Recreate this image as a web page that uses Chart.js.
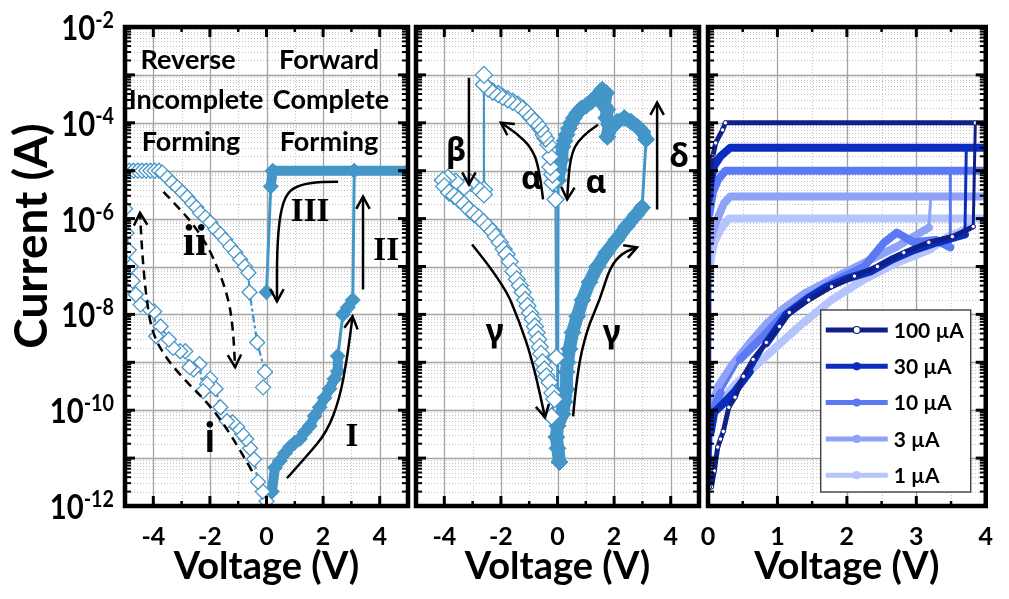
<!DOCTYPE html>
<html><head><meta charset="utf-8">
<script src="https://cdn.jsdelivr.net/npm/chart.js@4.4.1/dist/chart.umd.min.js"></script>
<style>
html,body{margin:0;padding:0;background:#fff;}
#wrap{position:relative;width:1009px;height:599px;overflow:hidden;background:#fff;}
canvas{position:absolute;top:0;}
</style></head><body>
<div id="wrap">
<canvas id="c1" width="420" height="599" style="left:0px"></canvas>
<canvas id="c2" width="305" height="599" style="left:405px"></canvas>
<canvas id="c3" width="329" height="599" style="left:680px"></canvas>
</div>
<script>
// ---------------- DATA ----------------
// Panel 1 : forming (reverse = open diamonds, forward = filled diamonds)
const p1RevV = [0,-0.13,-0.3,-0.44,-0.58,-0.72,-0.86,-1.04,-1.2,-1.4,-1.63,-1.8,-1.99,-2.1,-2.24,-2.37,-2.58,-2.72,-2.87,-3.05,-3.3,-3.45,-3.74,-3.9,-3.97,-4.2,-4.45,-4.62,-4.73,-4.8,-4.87,-4.95,-5.0,
  -5.0,-4.85,-4.7,-4.55,-4.4,-4.25,-4.1,-3.95,-3.8,
  -3.68,-3.5,-3.33,-3.15,-2.97,-2.8,-2.63,-2.48,-2.34,-2.16,-1.99,-1.8,-1.63,-1.46,-1.28,-1.1,-0.93,-0.76,-0.64,-0.6,-0.33,-0.05,-0.12];
const p1RevI = [1.26e-12,2.0e-12,3.2e-12,9.5e-12,1.6e-11,2.5e-11,3.2e-11,4.5e-11,5.6e-11,5.9e-11,1.15e-10,2.8e-10,4.5e-10,3.5e-10,2.5e-10,9.1e-10,7.1e-10,7.9e-10,1.7e-9,1.7e-9,2.0e-9,3.0e-9,5.6e-9,3.5e-9,1.15e-8,1.4e-8,1.6e-8,2.6e-8,5.0e-8,1.0e-7,2.2e-7,5.0e-7,1.6e-6,
  1e-5,1e-5,1e-5,1e-5,1e-5,1e-5,1e-5,1e-5,1e-5,
  9.1e-6,7.1e-6,5.6e-6,4.5e-6,3.5e-6,2.8e-6,2.1e-6,1.7e-6,1.3e-6,1.05e-6,8.3e-7,5.9e-7,4.7e-7,3.6e-7,2.6e-7,1.95e-7,1.4e-7,1.0e-7,7.4e-8,2.9e-8,2.6e-9,6.3e-10,3.0e-10];
const p1FwdV = [0.19,0.3,0.47,0.65,0.83,1.0,1.18,1.35,1.53,1.7,1.88,2.05,2.23,2.4,2.52,2.52,2.7,2.87,3.05,3.1,5.0,0.22,0.15,0.0];
const p1FwdI = [2.0e-12,6.3e-12,8.7e-12,1.26e-11,1.7e-11,2.1e-11,2.5e-11,3.5e-11,4.7e-11,7.6e-11,1.15e-10,1.8e-10,2.8e-10,4.5e-10,6.5e-10,1.35e-9,1.0e-8,1.4e-8,2.0e-8,1.0e-5,1.0e-5,1.0e-5,4.7e-6,2.9e-8];

// Panel 2 : switching loop
const p2RevV = [-0.04,-0.07,-0.18,-0.18,-0.25,-0.25,-0.32,-0.42,-0.49,-0.6,-0.7,-0.82,-0.95,-1.1,-1.23,-1.4,-1.58,-1.76,-1.94,-2.1,-2.29,-2.45,-2.6,-2.6,-2.6,-2.6,-2.89,-3.06,-3.3,-3.6,-3.87,-4.05,-4.0,-3.83,-3.66,-3.49,-3.3,-3.13,-2.95,-2.78,-2.62,-2.46,-2.3,-2.18,-2.04,-1.9,-1.8,-1.69,-1.56,-1.44,-1.33,-1.23,-1.14,-1.06,-0.97,-0.88,-0.8,-0.74,-0.68,-0.63,-0.58,-0.53,-0.46,-0.39,-0.28,-0.18,-0.11,-0.21];
const p2RevI = [1.26e-9,2.5e-6,5.6e-6,8.3e-6,1.2e-5,1.95e-5,3.5e-5,4.7e-5,5.6e-5,7.4e-5,9.1e-5,1.12e-4,1.3e-4,1.66e-4,2.0e-4,2.4e-4,2.75e-4,3.1e-4,3.5e-4,4.0e-4,4.5e-4,5.2e-4,6.3e-4,1.0e-3,4.0e-6,3.2e-6,4.7e-6,5.6e-6,4.5e-6,5.9e-6,7.1e-6,6.3e-6,4.7e-6,3.5e-6,3.0e-6,2.5e-6,2.0e-6,1.55e-6,1.26e-6,1.05e-6,8.5e-7,6.8e-7,5.4e-7,4.2e-7,3.2e-7,2.3e-7,1.8e-7,1.26e-7,7.9e-8,5.4e-8,4.0e-8,2.9e-8,2.0e-8,1.5e-8,1.07e-8,7.9e-9,5.6e-9,4.2e-9,3.0e-9,2.1e-9,1.5e-9,1.0e-9,7.1e-10,5.1e-10,3.8e-10,2.3e-10,1.7e-10,7.4e-11];
const p2FwdV = [0.07,-0.04,0.0,0.18,0.25,0.32,0.32,0.35,0.42,0.53,0.7,0.88,1.13,1.41,1.73,2.08,2.43,2.78,2.99,3.13,3.0,2.82,2.6,2.36,2.11,1.9,1.76,1.83,1.72,1.76,1.65,1.72,1.58,1.37,1.2,1.02,0.85,0.7,0.58,0.49,0.4,0.32,0.25,0.18,0.14,0.07,0.02,0.0];
const p2FwdI = [8.3e-12,2.75e-11,4.7e-11,8.3e-11,1.5e-10,2.75e-10,6.3e-10,1.0e-9,1.9e-9,4.2e-9,9.1e-9,2.0e-8,4.7e-8,1.0e-7,1.95e-7,3.6e-7,6.8e-7,1.2e-6,1.7e-6,4.5e-5,6.5e-5,8.3e-5,1.05e-4,1.26e-4,1.05e-4,7.9e-5,5.1e-5,9.1e-5,1.26e-4,1.9e-4,2.3e-4,4.2e-4,4.9e-4,3.5e-4,2.8e-4,2.3e-4,2.0e-4,1.6e-4,1.26e-4,1.0e-4,7.6e-5,5.6e-5,4.2e-5,3.2e-5,1.7e-5,1.05e-5,6.3e-6,1.6e-11];

// Panel 3 : compliance currents
const p3Labels = ['100 µA','30 µA','10 µA','3 µA','1 µA'];
const p3V_100 = [0.05,0.09,0.14,0.18,0.22,0.30,0.39,0.51,0.65,0.84,1.03,1.17,1.45,1.78,2.11,2.44,2.82,3.18,3.52,3.82,3.85,4.0,0.25,0.21,0.11,0.07,0.02,0.02];
const p3I_100 = [2.5e-12,5.4e-12,1.7e-11,2.5e-11,3.6e-11,1.15e-10,1.86e-10,5.1e-10,1.15e-9,2.6e-9,5.6e-9,1.1e-8,2.0e-8,3.8e-8,6.3e-8,1.0e-7,1.95e-7,3.2e-7,4.2e-7,6.8e-7,1.0e-4,1.0e-4,1.0e-4,7.1e-5,3.8e-5,2.0e-5,9.5e-6,2.5e-12];
const p3V_30 = [0.02,0.04,0.09,0.18,0.37,0.6,0.84,1.13,1.45,1.69,2.0,2.34,2.65,2.96,3.3,3.7,3.72,4.0,0.32,0.18,0.09,0.04,0.01,0.01];
const p3I_30 = [3.2e-12,3.5e-11,9.1e-11,1.2e-10,2.3e-10,6.3e-10,2.5e-9,1.0e-8,2.2e-8,3.6e-8,5.6e-8,7.9e-8,1.4e-7,2.2e-7,3.2e-7,4.7e-7,3.0e-5,3.0e-5,3.0e-5,2.0e-5,1.26e-5,6.3e-6,2.5e-6,3.2e-12];
const p3V_10 = [0.02,0.04,0.18,0.46,0.75,1.07,1.45,1.87,2.25,2.54,2.72,2.96,3.28,3.49,3.49,4.0,0.25,0.14,0.07,0.02,0.02];
const p3I_10 = [2.5e-12,7.9e-11,2.3e-10,1.15e-9,3.0e-9,9.1e-9,2.3e-8,5.4e-8,1.0e-7,3.2e-7,5.1e-7,3.2e-7,3.6e-7,2.5e-7,1.0e-5,1.0e-5,1.0e-5,6.3e-6,3.5e-6,1.26e-6,2.5e-12];
const p3V_3 = [0.02,0.04,0.15,0.35,0.6,0.84,1.07,1.4,1.78,2.2,2.72,3.18,3.21,4.0,0.32,0.23,0.18,0.09,0.04,0.02];
const p3I_3 = [4.0e-12,1.0e-10,3.2e-10,8.9e-10,2.5e-9,6.3e-9,1.26e-8,2.8e-8,5.4e-8,1.1e-7,2.6e-7,6.5e-7,2.9e-6,2.9e-6,2.9e-6,2.1e-6,1.4e-6,6.8e-7,3.6e-7,4.0e-12];
const p3V_1 = [0.02,0.03,0.09,0.37,0.84,1.31,1.78,2.25,2.72,3.18,3.46,3.75,3.77,4.0,0.3,0.18,0.09,0.04,0.02,0.02];
const p3I_1 = [3.2e-12,1.0e-11,1.05e-10,3.2e-10,1.35e-9,5.6e-9,2.0e-8,5.4e-8,1.2e-7,2.2e-7,4.2e-7,6.3e-7,1.0e-6,1.0e-6,1.0e-6,5.9e-7,3.2e-7,1.4e-7,5.4e-8,3.2e-12];

// Tick labels
const xTicksPm = [-4,-2,0,2,4];
const xMinorPm = [-3,-1,1,3];
const xTicks3 = [0,1,2,3,4];
const xMinor3 = [0.5,1.5,2.5,3.5];
const yTickExp = [-2,-4,-6,-8,-10,-12];

// ---------------- STYLE / HELPERS ----------------
const FONT = "Lato, 'Open Sans', sans-serif";
const GREEK = "'Noto Sans', 'DejaVu Sans', sans-serif";
const SERIF = "'Liberation Serif', 'DejaVu Serif', serif";
const BLUE = '#4596c8';
const P3COL = ['#0f2088','#0a2cbf','#5a79f3','#8ea2f8','#b6c4fc'];

function pts(V, I){ const n=Math.min(V.length,I.length); const r=[]; for(let i=0;i<n;i++) r.push({x:V[i], y:I[i]}); return r; }
function segWidth(thick, thin){
  return c => { const a=c.p0, b=c.p1; const dx=Math.abs(b.x-a.x), dy=Math.abs(b.y-a.y);
    return (dy > 1.5*dx && Math.hypot(dx,dy) > 30) ? thin : thick; };
}
function line(ctx,x1,y1,x2,y2){ ctx.beginPath(); ctx.moveTo(x1,y1); ctx.lineTo(x2,y2); ctx.stroke(); }
function smoothPath(ctx,P){
  ctx.beginPath(); ctx.moveTo(P[0][0],P[0][1]);
  for(let i=1;i<P.length-1;i++){ const mx=(P[i][0]+P[i+1][0])/2, my=(P[i][1]+P[i+1][1])/2; ctx.quadraticCurveTo(P[i][0],P[i][1],mx,my); }
  ctx.lineTo(P[P.length-1][0],P[P.length-1][1]);
}
function head(ctx,from,to,len,ang){
  const a=Math.atan2(to[1]-from[1],to[0]-from[0]);
  ctx.beginPath(); ctx.moveTo(to[0]-len*Math.cos(a-ang), to[1]-len*Math.sin(a-ang));
  ctx.lineTo(to[0],to[1]); ctx.lineTo(to[0]-len*Math.cos(a+ang), to[1]-len*Math.sin(a+ang)); ctx.stroke();
}

// Annotations (voltage, log10 current)
const HDR = `bold 27px ${FONT}`, ROM = `bold 33px ${SERIF}`, GRK = `bold 32px ${GREEK}`;
const p1Notes = [
  {text:'Reverse', v:-2.77, e:-2.69, font:HDR}, {text:'Incomplete', v:-2.49, e:-3.52, font:HDR}, {text:'Forming', v:-2.67, e:-4.4, font:HDR},
  {text:'Forward', v:2.21, e:-2.69, font:HDR}, {text:'Complete', v:2.28, e:-3.52, font:HDR}, {text:'Forming', v:2.21, e:-4.4, font:HDR},
  {text:'III', v:1.54, e:-5.88, font:ROM}, {text:'II', v:4.23, e:-6.68, font:ROM}, {text:'I', v:3.02, e:-10.56, font:ROM},
  {text:'ii', v:-2.53, e:-6.53, font:`bold 44px ${SERIF}`}, {text:'i', v:-2.0, e:-10.6, font:`bold 42px ${FONT}`}
];
const p1Arrows = [
  {pts:[[-3.64,-5.44],[-3.04,-5.81],[-2.44,-6.23],[-1.88,-6.79],[-1.35,-7.63],[-1.18,-8.31],[-1.11,-9.1]], dash:[9,6]},
  {pts:[[-0.51,-11.27],[-1.29,-10.46],[-2.1,-9.83],[-2.81,-9.42],[-3.52,-8.94],[-4.05,-8.39],[-4.27,-7.55],[-4.4,-6.66],[-4.47,-5.88]], dash:[9,6]},
  {pts:[[2.53,-5.23],[1.89,-5.23],[1.18,-5.29],[0.72,-5.46],[0.48,-5.88],[0.37,-6.65],[0.37,-7.73]]},
  {pts:[[3.41,-7.48],[3.41,-5.54]]},
  {pts:[[0.72,-11.42],[1.42,-10.96],[2.13,-10.46],[2.58,-9.77],[2.86,-8.88],[3.04,-8.04]]}
];
const p2Notes = [
  {text:'β', v:-3.58, e:-4.61, font:GRK}, {text:'α', v:-0.92, e:-5.19, font:GRK}, {text:'α', v:1.36, e:-5.28, font:GRK},
  {text:'δ', v:4.3, e:-4.73, font:GRK}, {text:'γ', v:-2.22, e:-8.39, font:GRK}, {text:'γ', v:1.92, e:-8.41, font:GRK}
];
const p2Arrows = [
  {pts:[[-3.13,-3.06],[-3.13,-5.29]]},
  {pts:[[-0.51,-5.6],[-0.65,-4.92],[-0.94,-4.5],[-1.47,-4.21],[-2.0,-4.0]]},
  {pts:[[1.43,-4.04],[0.8,-4.29],[0.44,-4.71],[0.34,-5.6]]},
  {pts:[[3.52,-5.81],[3.52,-3.58]]},
  {pts:[[-3.02,-6.54],[-1.93,-7.33],[-1.33,-8.17],[-0.87,-9.0],[-0.44,-10.15]]},
  {pts:[[0.55,-10.13],[0.69,-9.21],[1.04,-8.31],[1.5,-7.69],[1.86,-7.0],[2.31,-6.71],[2.81,-6.6]]}
];

// ---------------- PLUGIN ----------------
const deco = {
  id:'deco',
  beforeDatasetsDraw(chart, args, o){
    const {ctx, chartArea:a, scales:{x,y}} = chart;
    ctx.save();
    ctx.beginPath(); ctx.rect(a.left,a.top,a.right-a.left,a.bottom-a.top); ctx.clip();
    ctx.lineWidth=1; ctx.strokeStyle='#c4c4c4'; ctx.setLineDash([1,2]);
    for(let e=-12;e<-2;e++) for(let k=2;k<10;k++){ const py=Math.round(y.getPixelForValue(k*Math.pow(10,e)))+0.5; line(ctx,a.left,py,a.right,py); }
    o.minorX.forEach(v=>{ const px=Math.round(x.getPixelForValue(v))+0.5; line(ctx,px,a.top,px,a.bottom); });
    ctx.setLineDash([]); ctx.strokeStyle='#a4a4a4'; ctx.lineWidth=1.3;
    for(let e=-11;e<-2;e++){ const py=Math.round(y.getPixelForValue(Math.pow(10,e)))+0.5; line(ctx,a.left,py,a.right,py); }
    o.majorX.forEach(v=>{ const px=Math.round(x.getPixelForValue(v))+0.5; line(ctx,px,a.top,px,a.bottom); });
    ctx.restore();
  },
  afterDraw(chart, args, o){
    const {ctx, chartArea:a, scales:{x,y}} = chart;
    const X = v => x.getPixelForValue(v), Y = e => y.getPixelForValue(Math.pow(10,e));
    ctx.save();
    ctx.save(); ctx.beginPath(); ctx.rect(a.left,a.top,a.right-a.left,a.bottom-a.top); ctx.clip();
    (o.arrows||[]).forEach(ar=>{
      const P = ar.pts.map(p=>[X(p[0]),Y(p[1])]);
      ctx.strokeStyle='#000'; ctx.lineWidth=2.5; ctx.lineCap='butt'; ctx.lineJoin='miter';
      ctx.setLineDash(ar.dash||[]); smoothPath(ctx,P); ctx.stroke(); ctx.setLineDash([]);
      head(ctx,P[P.length-2],P[P.length-1],14,0.5);
    });
    (o.notes||[]).forEach(n=>{ ctx.font=n.font; ctx.fillStyle='#000'; ctx.textAlign='center'; ctx.textBaseline='middle'; ctx.fillText(n.text,X(n.v),Y(n.e)); });
    ctx.restore();
    // ticks and frame
    ctx.strokeStyle='#000'; ctx.lineCap='butt';
    for(let e=-12;e<=-2;e++){
      const py=Y(e); ctx.lineWidth=3; line(ctx,a.left,py,a.left+10,py); line(ctx,a.right-10,py,a.right,py);
      if(e<-2) for(let k=2;k<10;k++){ const q=y.getPixelForValue(k*Math.pow(10,e)); ctx.lineWidth=2; line(ctx,a.left,q,a.left+6,q); line(ctx,a.right-6,q,a.right,q); }
    }
    o.majorX.forEach(v=>{ const px=X(v); ctx.lineWidth=3; line(ctx,px,a.bottom,px,a.bottom-10); line(ctx,px,a.top,px,a.top+10); });
    o.minorX.forEach(v=>{ const px=X(v); ctx.lineWidth=2.5; line(ctx,px,a.bottom,px,a.bottom-5); line(ctx,px,a.top,px,a.top+5); });
    ctx.lineWidth=4.5; ctx.strokeRect(a.left,a.top,a.right-a.left,a.bottom-a.top);
    // y labels with superscript exponents
    if(o.yLabels){
      ctx.fillStyle='#000'; ctx.textAlign='left'; ctx.textBaseline='alphabetic';
      const sx=0.86;
      o.yLabels.forEach(e=>{
        const py=Y(e), base='10', sup=String(e);
        ctx.font=`bold 34px ${FONT}`; const wb=ctx.measureText(base).width*sx;
        ctx.font=`bold 23px ${FONT}`; const ws=ctx.measureText(sup).width*sx;
        const x0=a.left-11-ws-wb;
        ctx.save(); ctx.translate(x0,py+13); ctx.scale(sx,1); ctx.font=`bold 34px ${FONT}`; ctx.fillText(base,0,0); ctx.restore();
        ctx.save(); ctx.translate(x0+wb,py+1); ctx.scale(sx,1); ctx.font=`bold 23px ${FONT}`; ctx.fillText(sup,0,0); ctx.restore();
      });
    }
    if(o.yTitle){
      ctx.save(); ctx.translate(47,236); ctx.rotate(-Math.PI/2);
      ctx.font=`bold 46px ${FONT}`; ctx.fillStyle='#000'; ctx.textAlign='center'; ctx.textBaseline='alphabetic';
      ctx.fillText(o.yTitle,0,0); ctx.restore();
    }
    if(o.legend){
      const L=o.legend; const bx=a.right-L.dr-L.w, by=a.bottom-L.db-L.h;
      ctx.fillStyle='#fff'; ctx.fillRect(bx,by,L.w,L.h); ctx.lineWidth=1.2; ctx.strokeStyle='#222'; ctx.strokeRect(bx,by,L.w,L.h);
      chart.data.datasets.forEach((ds,i)=>{
        const cy=by+L.first+i*L.step;
        ctx.strokeStyle=ds.borderColor; ctx.lineWidth=5; line(ctx,bx+5,cy,bx+67,cy);
        ctx.beginPath(); ctx.arc(bx+36,cy,3.5,0,2*Math.PI); ctx.fillStyle=ds.pointBackgroundColor||ds.borderColor; ctx.fill();
        ctx.lineWidth=1.2; ctx.strokeStyle=ds.borderColor; ctx.stroke();
        ctx.fillStyle='#000'; ctx.font=`bold 21px ${FONT}`; ctx.textAlign='left'; ctx.textBaseline='middle'; ctx.fillText(ds.label,bx+73,cy+1);
      });
    }
    ctx.restore();
  }
};

function xAxis(min,max,ticks){
  return { type:'linear', min, max,
    afterBuildTicks: s => { s.ticks = ticks.map(v=>({value:v})); },
    afterFit: s => { s.height = 93; },
    grid:{display:false, drawTicks:false}, border:{display:false},
    ticks:{ color:'#000', font:{family:FONT, size:25, weight:'bold'}, padding:16, maxRotation:0, autoSkip:false, callback: v => String(v) },
    title:{ display:true, text:'Voltage (V)', color:'#000', font:{family:FONT, size:38, weight:'bold'}, padding:{top:0,bottom:9} } };
}
function baseOpts(padL,padR,xmin,xmax,ticks,minor,extra){
  return { responsive:false, animation:false, devicePixelRatio:1, events:[],
    layout:{padding:{left:padL,right:padR,top:27,bottom:0}},
    scales:{ x:xAxis(xmin,xmax,ticks), y:{type:'logarithmic', min:1e-12, max:1e-2, display:false} },
    plugins:{ legend:{display:false}, tooltip:{enabled:false}, deco:Object.assign({majorX:ticks, minorX:minor}, extra) } };
}
function openDs(V,I,r,dash){
  return { label:'reverse', data:pts(V,I), showLine:true, borderColor:BLUE, borderWidth:2.2, borderDash:dash,
    pointStyle:'rectRot', pointRadius:r, pointBackgroundColor:'#fff', pointBorderColor:BLUE, pointBorderWidth:1.3 };
}
function fillDs(V,I,r,thick){
  return { label:'forward', data:pts(V,I), showLine:true, borderColor:BLUE, borderWidth:3, borderCapStyle:'round', borderJoinStyle:'round',
    segment:{borderWidth:segWidth(thick,3)}, pointStyle:'rectRot', pointRadius:r, pointBackgroundColor:BLUE, pointBorderColor:BLUE, pointBorderWidth:1 };
}

new Chart(document.getElementById('c1'), { type:'scatter', plugins:[deco],
  data:{ datasets:[ openDs(p1RevV,p1RevI,7.5,[8,3,3,3]), fillDs(p1FwdV,p1FwdI,7.5,10) ] },
  options: baseOpts(125,12,-5,5,xTicksPm,xMinorPm,{notes:p1Notes, arrows:p1Arrows, yLabels:yTickExp, yTitle:'Current (A)'}) });

new Chart(document.getElementById('c2'), { type:'scatter', plugins:[deco],
  data:{ datasets:[ openDs(p2RevV,p2RevI,8.5,[]), fillDs(p2FwdV,p2FwdI,8.5,13) ] },
  options: baseOpts(11,11,-5,5,xTicksPm,xMinorPm,{notes:p2Notes, arrows:p2Arrows}) });

const p3Sets = [[p3V_100,p3I_100],[p3V_30,p3I_30],[p3V_10,p3I_10],[p3V_3,p3I_3],[p3V_1,p3I_1]];
new Chart(document.getElementById('c3'), { type:'scatter', plugins:[deco],
  data:{ datasets: p3Sets.map((s,i)=>({ label:p3Labels[i], data:pts(s[0],s[1]), showLine:true, borderColor:P3COL[i],
    borderWidth:6, borderCapStyle:'round', borderJoinStyle:'round', segment:{borderWidth:segWidth(i===0?5:8,3)},
    pointRadius: i===0?2.2:0, pointBackgroundColor: i===0?'#fff':P3COL[i], pointBorderColor:P3COL[i], pointBorderWidth:1 })) },
  options: baseOpts(28,19,0,4,xTicks3,xMinor3,{legend:{w:150,h:182,dr:15,db:14,first:20,step:36.3}}) });
</script>
</body></html>
